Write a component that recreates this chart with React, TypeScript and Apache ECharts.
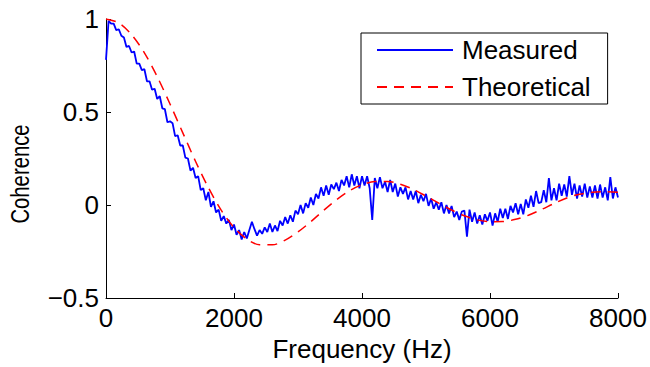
import React, { useEffect, useRef } from "react";
import * as echarts from "echarts";

// Frequency grid spacing (Hz) of each series
const measuredStepHz = 40;
const theoreticalStepHz = 200;

// Measured coherence, one value per 40 Hz from 0 to 8000 Hz
const measured = [
  0.78, 0.99, 0.975, 0.975, 0.94, 0.945, 0.91, 0.9, 0.85, 0.855,
  0.82, 0.825, 0.76, 0.76, 0.725, 0.73, 0.665, 0.665, 0.62, 0.625,
  0.57, 0.585, 0.52, 0.515, 0.445, 0.45, 0.44, 0.37, 0.375, 0.32,
  0.32, 0.255, 0.25, 0.185, 0.2, 0.145, 0.155, 0.08, 0.09, 0.025,
  0.07, -0.01, 0.02, -0.04, -0.025, -0.085, -0.06, -0.1, -0.08, -0.135,
  -0.105, -0.16, -0.135, -0.185, -0.145, -0.18, -0.135, -0.09, -0.13, -0.165,
  -0.135, -0.155, -0.12, -0.145, -0.1, -0.145, -0.11, -0.14, -0.085, -0.11,
  -0.065, -0.1, -0.055, -0.09, -0.03, -0.05, 0.0, -0.045, 0.01, -0.015,
  0.04, 0.0, 0.06, 0.035, 0.095, 0.05, 0.105, 0.055, 0.11, 0.085,
  0.12, 0.075, 0.135, 0.105, 0.155, 0.095, 0.165, 0.105, 0.155, 0.09,
  0.155, 0.105, 0.155, 0.09, -0.08, 0.145, 0.09, 0.15, 0.09, 0.125,
  0.07, 0.135, 0.07, 0.115, 0.045, 0.095, 0.06, 0.095, 0.03, 0.075,
  0.03, 0.075, 0.01, 0.055, 0.02, 0.06, -0.005, 0.035, -0.02, 0.015,
  -0.025, 0.015, -0.045, 0.0, -0.045, -0.005, -0.065, -0.035, -0.08, -0.035,
  -0.03, -0.17, -0.025, -0.09, -0.04, -0.1, -0.055, -0.105, -0.05, -0.085,
  -0.04, -0.11, -0.045, -0.09, -0.02, -0.07, -0.02, -0.075, -0.005, -0.04,
  0.01, -0.05, 0.005, -0.05, 0.03, -0.015, 0.05, -0.01, 0.075, 0.01,
  0.015, 0.08, 0.015, 0.145, 0.025, 0.09, 0.025, 0.115, 0.05, 0.11,
  0.045, 0.155, 0.055, 0.115, 0.035, 0.105, 0.045, 0.115, 0.04, 0.1,
  0.04, 0.105, 0.035, 0.11, 0.04, 0.095, 0.025, 0.15, 0.035, 0.095,
  0.04,
];

// Theoretical coherence, one value per 200 Hz from 0 to 8000 Hz
const theoretical = [
  1.0, 0.979, 0.916, 0.818, 0.69, 0.543, 0.388, 0.234, 0.093, -0.028,
  -0.121, -0.183, -0.214, -0.214, -0.189, -0.145, -0.09, -0.029, 0.028, 0.076,
  0.109, 0.126, 0.127, 0.112, 0.084, 0.048, 0.01, -0.027, -0.058, -0.08,
  -0.09, -0.089, -0.077, -0.055, -0.025, 0.008, 0.038, 0.058, 0.068, 0.071,
  0.068,
];

const xMin = 0;
const xMax = 8000;
const xInterval = 2000;
const yMin = -0.5;
const yMax = 1;
const yInterval = 0.5;

const xAxisTitle = "Frequency (Hz)";
const yAxisTitle = "Coherence";

const FONT = "'Liberation Sans', Arial, Helvetica, sans-serif";

export default function App() {
  const ref = useRef<HTMLDivElement>(null);

  useEffect(() => {
    document.body.style.margin = "0";
    if (!ref.current) return;
    const chart = echarts.init(ref.current, undefined, { renderer: "svg" });

    const measuredData = measured.map((v, i) => [i * measuredStepHz, v]);
    const theoreticalData = theoretical.map((v, i) => [i * theoreticalStepHz, v]);

    chart.setOption({
      animation: false,
      backgroundColor: "#ffffff",
      textStyle: { fontFamily: FONT },
      grid: { left: 106, right: 32, top: 19, bottom: 69, containLabel: false },
      graphic: [
        {
          type: "text",
          x: 20,
          y: 174,
          rotation: Math.PI / 2,
          scaleX: 0.78,
          style: {
            text: yAxisTitle,
            fontSize: 26,
            fontFamily: FONT,
            fill: "#000000",
            align: "center",
            verticalAlign: "middle",
          },
        },
      ],
      legend: {
        orient: "vertical",
        left: 361,
        top: 33,
        backgroundColor: "#ffffff",
        borderColor: "#000000",
        borderWidth: 1,
        borderRadius: 0,
        padding: [4, 17, 4, 15],
        itemGap: 11,
        itemWidth: 76,
        itemHeight: 14,
        itemStyle: { color: "transparent", borderWidth: 0, opacity: 0 },
        textStyle: { fontSize: 26, color: "#000000", fontFamily: FONT, padding: [0, 0, 0, 4] },
        data: [{ name: "Measured" }, { name: "Theoretical" }],
      },
      xAxis: {
        type: "value",
        min: xMin,
        max: xMax,
        interval: xInterval,
        name: xAxisTitle,
        nameLocation: "middle",
        nameGap: 37,
        nameTextStyle: { fontSize: 26, color: "#000000", fontFamily: FONT },
        axisLine: { show: true, onZero: false, lineStyle: { color: "#000000", width: 1 } },
        axisTick: { show: true, inside: true, length: 5, lineStyle: { color: "#000000" } },
        axisLabel: {
          fontSize: 26,
          color: "#000000",
          margin: 7,
          fontFamily: FONT,
          formatter: (v: number) => String(v),
        },
        splitLine: { show: false },
      },
      yAxis: {
        type: "value",
        min: yMin,
        max: yMax,
        interval: yInterval,
        axisLine: { show: true, onZero: false, lineStyle: { color: "#000000", width: 1 } },
        axisTick: { show: true, inside: true, length: 5, lineStyle: { color: "#000000" } },
        axisLabel: {
          fontSize: 26,
          color: "#000000",
          margin: 7,
          fontFamily: FONT,
          formatter: (v: number) => String(v).replace("-", "\u2212"),
        },
        splitLine: { show: false },
      },
      series: [
        {
          name: "Measured",
          type: "line",
          data: measuredData,
          showSymbol: false,
          symbol: "none",
          lineStyle: { color: "#0000ff", width: 1.8 },
          itemStyle: { color: "#0000ff" },
          z: 2,
        },
        {
          name: "Theoretical",
          type: "line",
          data: theoreticalData,
          smooth: 0.3,
          showSymbol: false,
          symbol: "none",
          lineStyle: { color: "#ff0000", width: 1.5, type: [10, 7] },
          itemStyle: { color: "#ff0000" },
          z: 3,
        },
      ],
    });

    return () => chart.dispose();
  }, []);

  return (
    <div
      ref={ref}
      style={{ position: "fixed", left: 0, top: 0, width: 650, height: 367, background: "#fff" }}
    />
  );
}
